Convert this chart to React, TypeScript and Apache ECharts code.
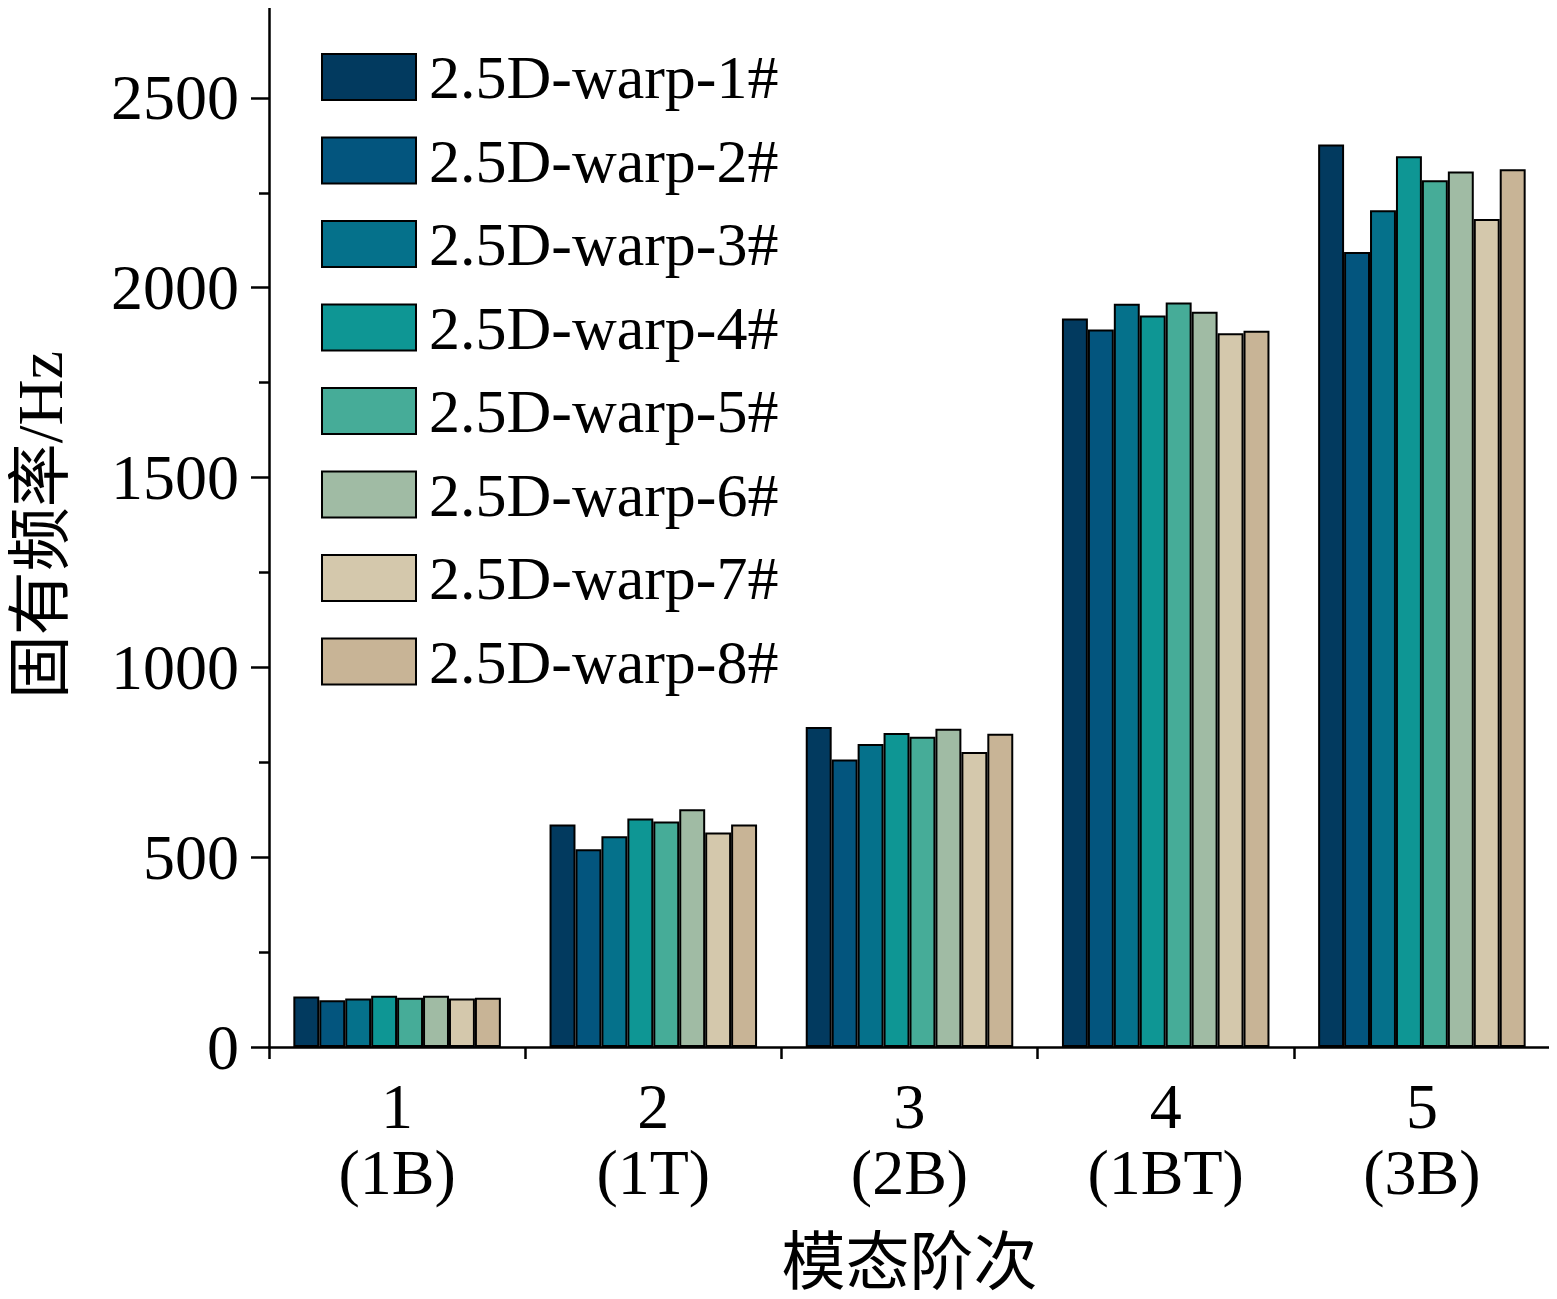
import React, { useEffect, useRef } from 'react';
import * as echarts from 'echarts';

const categories = ['1\n(1B)', '2\n(1T)', '3\n(2B)', '4\n(1BT)', '5\n(3B)'];
const seriesNames = [
  '2.5D-warp-1#', '2.5D-warp-2#', '2.5D-warp-3#', '2.5D-warp-4#',
  '2.5D-warp-5#', '2.5D-warp-6#', '2.5D-warp-7#', '2.5D-warp-8#',
];
const colors = ['#023a5f', '#03557e', '#05718b', '#0e9694', '#46ac98', '#a0bba4', '#d4c8ac', '#c8b496'];
const values = [
  [133, 586, 843, 1919, 2377],
  [123, 521, 757, 1890, 2094],
  [128, 555, 798, 1958, 2204],
  [135, 602, 827, 1927, 2346],
  [130, 594, 817, 1961, 2283],
  [135, 626, 838, 1937, 2306],
  [128, 565, 777, 1880, 2181],
  [130, 586, 825, 1887, 2312],
];

const font = '"Liberation Serif", "Times New Roman", serif';
const cjk = '"Liberation Serif", "Noto Sans CJK SC", serif';

const App: React.FC = () => {
  const chartRef = useRef<HTMLDivElement | null>(null);

  useEffect(() => {
    if (!chartRef.current) return;
    const chart = echarts.init(chartRef.current, undefined, { renderer: 'svg' });
    const frame = { show: true, onZero: false, lineStyle: { color: '#000', width: 2.5 } };
    const option: echarts.EChartsOption = {
      animation: false,
      grid: { left: 260, right: 7, top: 3, bottom: 247 },
      legend: {
        left: 316, top: 40, orient: 'vertical',
        icon: 'rect',
        itemWidth: 94, itemHeight: 46, itemGap: 19.5,
        itemStyle: { borderColor: '#000', borderWidth: 2 },
        textStyle: { fontFamily: font, fontSize: 62, lineHeight: 64, color: '#000', padding: [0, 0, 0, 8] },
        data: seriesNames,
      },
      xAxis: [
        {
          type: 'category', data: categories,
          axisLine: frame,
          axisTick: { show: true, length: 12, lineStyle: { width: 2.5 } },
          axisLabel: { fontFamily: font, fontSize: 64, color: '#000', lineHeight: 66, margin: 26 },
          name: '模态阶次', nameLocation: 'middle', nameGap: 183,
          nameTextStyle: { fontFamily: cjk, fontSize: 64, color: '#000' },
        },
        {
          type: 'category', position: 'top', data: categories,
          axisLine: frame, axisTick: { show: false }, axisLabel: { show: false },
        },
      ],
      yAxis: [
        {
          type: 'value', min: 0, max: 2750, interval: 500,
          axisLine: frame,
          axisTick: { show: true, length: 18, lineStyle: { width: 2.5 } },
          minorTick: { show: true, splitNumber: 2, length: 10, lineStyle: { color: '#000', width: 2.5 } },
          splitLine: { show: false },
          axisLabel: {
            fontFamily: font, fontSize: 64, color: '#000', margin: 30,
            showMaxLabel: false, formatter: (v: number) => (v > 2500 ? '' : String(v)),
          },
          name: '固有频率/Hz', nameLocation: 'middle', nameGap: 197,
          nameTextStyle: { fontFamily: cjk, fontSize: 64, color: '#000' },
        },
        {
          type: 'value', position: 'right', min: 0, max: 2750,
          axisLine: frame, axisTick: { show: false }, axisLabel: { show: false }, splitLine: { show: false },
        },
      ],
      series: seriesNames.map((name, i) => ({
        name, type: 'bar', data: values[i],
        barGap: '0%', barCategoryGap: '19%',
        itemStyle: { color: colors[i], borderColor: '#000', borderWidth: 2 },
      })),
    };
    chart.setOption(option);
    return () => chart.dispose();
  }, []);

  return <div ref={chartRef} style={{ width: 1557, height: 1299, margin: -8 }} />;
};

export default App;
